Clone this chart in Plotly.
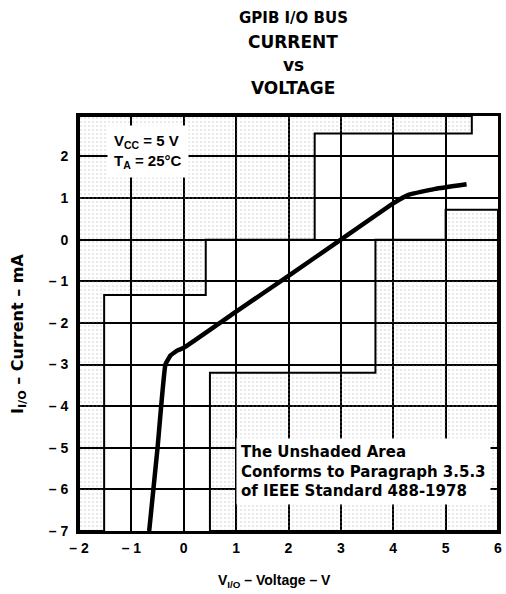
import plotly.graph_objects as go

# Curve data (V, mA)
voltage = [-0.66, -0.5, -0.35, -0.25, -0.12, 0.0, 1.0, 2.0, 3.0, 4.0, 4.3, 4.8, 5.4]
current = [-7.0, -5.0, -3.0, -2.78, -2.66, -2.6, -1.73, -0.87, 0.0, 0.87, 1.08, 1.22, 1.33]

# Shaded (non-conforming) regions
upper_x = [-2, -1.52, -1.52, 0.42, 0.42, 2.5, 2.5, 5.5, 5.5, -2, -2]
upper_y = [-7, -7, -1.33, -1.33, 0, 0, 2.55, 2.55, 2.97, 2.97, -7]
lower_x = [0.5, 0.5, 3.66, 3.66, 5.0, 5.0, 6.0, 6.0, 0.5]
lower_y = [-7, -3.2, -3.2, 0, 0, 0.72, 0.72, -7, -7]

x_ticks = [-2, -1, 0, 1, 2, 3, 4, 5, 6]
x_ticktext = ["\u2013 2", "\u2013 1", "0", "1", "2", "3", "4", "5", "6"]
y_ticks = [-7, -6, -5, -4, -3, -2, -1, 0, 1, 2]
y_ticktext = ["\u2013 7", "\u2013 6", "\u2013 5", "\u2013 4", "\u2013 3", "\u2013 2", "\u2013 1", "0", "1", "2"]

LIB = "Liberation Sans"
DJV = "DejaVu Sans"

W, H = 506, 594
ML, MR, MT, MB = 79, 8, 116, 63
PW, PH = W - ML - MR, H - MT - MB


def paper(wx, wy):
    """window pixel -> paper coords"""
    return (wx - ML) / PW, (H - MB - wy) / PH


fig = go.Figure()
pattern = dict(shape=".", fgcolor="#9a9a9a", bgcolor="rgba(0,0,0,0)", size=4, solidity=0.13)
for xs, ys in [(upper_x, upper_y), (lower_x, lower_y)]:
    fig.add_trace(go.Scatter(x=xs, y=ys, mode="lines", fill="toself",
                             fillpattern=pattern, fillcolor="rgba(0,0,0,0)",
                             line=dict(color="black", width=2), hoverinfo="skip",
                             showlegend=False))

fig.add_trace(go.Scatter(x=voltage, y=current, mode="lines",
                         line=dict(color="black", width=4.5, shape="spline", smoothing=0.3),
                         showlegend=False))

axis_common = dict(showgrid=True, gridcolor="black", gridwidth=1.6, zeroline=False,
                   showline=True, linecolor="black", linewidth=3, mirror=True,
                   ticks="", automargin=False, ticklabeloverflow="allow",
                   tickfont=dict(family=LIB, size=14, color="black", weight="bold"))

fig.update_xaxes(range=[-2, 6], tickvals=x_ticks, ticktext=x_ticktext, ticklabelstandoff=2,
                 **axis_common)
fig.update_yaxes(range=[-7, 2.97], tickvals=y_ticks, ticktext=y_ticktext, ticklabelstandoff=5,
                 **axis_common)

# Title lines
px_, py_ = paper(293, 18)
fig.add_annotation(xref="paper", yref="paper", x=px_, y=py_, xanchor="center", yanchor="middle",
                   showarrow=False, text="GPIB I/O BUS",
                   font=dict(family=DJV, size=15, color="black", weight="bold"))
for t, wy in [("CURRENT", 42), ("vs", 65), ("VOLTAGE", 88)]:
    px_, py_ = paper(293, wy)
    fig.add_annotation(xref="paper", yref="paper", x=px_, y=py_, xanchor="center", yanchor="middle",
                       showarrow=False, text=t,
                       font=dict(family=DJV, size=17, color="black", weight="bold"))

# Axis titles
px_, py_ = paper(274, 581)
fig.add_annotation(xref="paper", yref="paper", x=px_, y=py_, xanchor="center", yanchor="middle",
                   showarrow=False, text="V<sub>I/O</sub> \u2013 Voltage \u2013 V",
                   font=dict(family=LIB, size=14, color="black", weight="bold"))
px_, py_ = paper(18, 334)
fig.add_annotation(xref="paper", yref="paper", x=px_, y=py_, xanchor="center", yanchor="middle",
                   showarrow=False, textangle=-90, text="I<sub>I/O</sub> \u2013 Current \u2013 mA",
                   font=dict(family=DJV, size=16, color="black", weight="bold"))

# Condition box
fig.add_annotation(x=-0.68, y=2.12, showarrow=False, bgcolor="white", borderpad=6,
                   text="V<sub>CC</sub> = 5 V<br>T<sub>A</sub> = 25\u00b0C", align="left",
                   font=dict(family=LIB, size=15, color="black", weight="bold"))

# Note box
fig.add_annotation(x=1.0, y=-5.58, xanchor="left", showarrow=False, bgcolor="white",
                   borderpad=4, align="left",
                   text="The Unshaded Area<br>Conforms to Paragraph 3.5.3<br>of IEEE Standard 488-1978",
                   font=dict(family=DJV, size=15, color="black", weight="bold"))

fig.update_layout(width=W, height=H, margin=dict(l=ML, r=MR, t=MT, b=MB),
                  plot_bgcolor="white", paper_bgcolor="white", showlegend=False)

fig.write_html("out.html", config={"displayModeBar": False},
               post_script="document.body.style.margin='0px';")
